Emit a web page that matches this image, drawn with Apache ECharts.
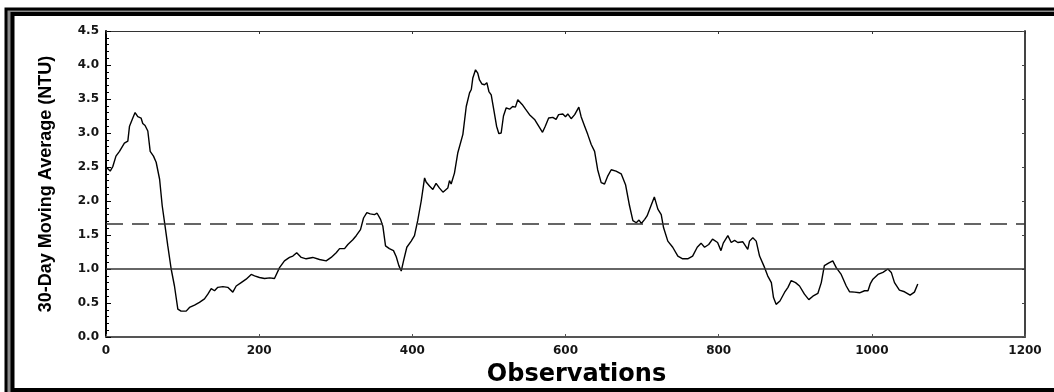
<!DOCTYPE html>
<html>
<head>
<meta charset="utf-8">
<title>30-Day Moving Average (NTU)</title>
<script src="https://cdn.jsdelivr.net/npm/echarts@6/dist/echarts.min.js"></script>
<style>
  html, body { margin: 0; padding: 0; background: #ffffff; }
  #chart { width: 1054px; height: 392px; }
</style>
</head>
<body>
<div id="chart"></div>
<script>
// Observation index of each sample
const obs = [
  0, 5.5, 9, 13, 17.6, 19.8, 24, 28.5, 30.7, 35, 38, 41.5, 45.8, 48, 51, 54.6,
  57.7, 62, 65.5, 70, 73.4, 76.4, 80.7, 85.1, 89.4, 93.8, 98, 104.7, 109, 115.6,
  122, 128.6, 133, 137.4, 141.7, 146, 152.6, 159, 165.6, 170, 176.5, 183, 189.6,
  194, 200.4, 207, 213.7, 220, 226.6, 233, 239.6, 244, 249, 255, 261.4, 270,
  278.8, 287.5, 294, 300.6, 305, 311.5, 315.8, 322.3, 326.7, 332.3, 336.3, 340.6,
  345, 350.6, 354, 358.5, 361.5, 365, 370, 375.4, 379, 382.4, 385.5, 388.5, 392.8,
  398.5, 402.8, 407, 411.6, 416, 418, 422.4, 426.8, 431, 435.5, 440, 446.3, 448.5,
  450.7, 455, 459.4, 461.5, 466, 470.4, 474.7, 477, 479, 482.5, 485.4, 487.7, 491,
  494.3, 497.3, 500, 503, 506.4, 510, 513, 516, 519, 522.6, 527, 531, 534.6, 537.7,
  540, 543.4, 547.8, 553, 559.6, 564, 570, 573.6, 578, 583.4, 587.7, 591, 596.5,
  600, 603, 607.4, 612, 617.4, 620.4, 625, 629, 633.6, 638, 642, 646.6, 651, 655.3,
  659.7, 666, 672.7, 678.4, 683.6, 688, 692.4, 696, 699, 703.4, 706.5, 710.6, 716,
  720.6, 725, 728, 733.6, 740, 746.7, 753, 759.6, 766, 772, 777, 781.6, 787, 792,
  798.6, 803, 806, 812, 816.4, 820.8, 825, 831.6, 838, 840.3, 844.6, 849, 853.4,
  860, 864, 868.8, 871.6, 875, 880, 886, 890.5, 894.7, 900.4, 905.6, 912, 917.7,
  923, 929.5, 934, 938, 944, 949, 953.5, 960, 966.6, 971, 977.5, 984, 990.5, 995,
  997.9, 1001.4, 1008, 1014.5, 1021, 1025.4, 1029.6, 1036, 1042.7, 1050, 1055.6,
  1060
];

// 30-day moving average turbidity, NTU
const ntu = [
  2.50, 2.44, 2.51, 2.66, 2.73, 2.71, 2.85, 2.88, 3.10, 3.22, 3.30, 3.24, 3.22, 3.14, 3.11, 3.03,
  2.73, 2.66, 2.57, 2.32, 1.93, 1.69, 1.34, 1.00, 0.75, 0.41, 0.38, 0.38, 0.435, 0.47,
  0.51, 0.56, 0.63, 0.71, 0.68, 0.73, 0.74, 0.73, 0.66, 0.75, 0.80, 0.85, 0.92,
  0.90, 0.875, 0.86, 0.87, 0.86, 1.02, 1.12, 1.17, 1.19, 1.24, 1.17, 1.15, 1.17,
  1.14, 1.12, 1.17, 1.24, 1.30, 1.30, 1.36, 1.43, 1.49, 1.58, 1.75, 1.83,
  1.81, 1.80, 1.82, 1.73, 1.63, 1.34, 1.30, 1.27, 1.18, 1.05, 0.97, 1.12, 1.32,
  1.41, 1.49, 1.71, 2.00, 2.34, 2.28, 2.22, 2.17, 2.26, 2.19, 2.13, 2.19, 2.30,
  2.25, 2.41, 2.71, 2.73, 2.98, 3.39, 3.59, 3.64, 3.81, 3.93, 3.88, 3.78, 3.72,
  3.71, 3.74, 3.61, 3.56, 3.34, 3.10, 2.99, 3.00, 3.25, 3.37, 3.35, 3.39, 3.38, 3.49,
  3.50, 3.42, 3.35, 3.27, 3.20, 3.12, 3.01, 3.10, 3.22, 3.23, 3.20, 3.27, 3.28,
  3.24, 3.28, 3.21, 3.27, 3.38, 3.24, 3.10, 2.98, 2.83, 2.73, 2.46, 2.27, 2.25, 2.37,
  2.46, 2.44, 2.40, 2.24, 1.93, 1.71, 1.68, 1.72, 1.67, 1.73, 1.78, 1.90, 2.06,
  1.88, 1.80, 1.61, 1.41, 1.32, 1.19, 1.15, 1.15, 1.19, 1.32, 1.38, 1.32, 1.36, 1.44,
  1.39, 1.27, 1.38, 1.49, 1.39, 1.42, 1.39, 1.40, 1.29, 1.41, 1.46, 1.41, 1.19,
  1.02, 0.90, 0.80, 0.58, 0.48, 0.53, 0.655, 0.73, 0.83, 0.80, 0.75, 0.63, 0.55,
  0.60, 0.64, 0.80, 1.05, 1.09, 1.12, 1.02, 0.92, 0.75, 0.665, 0.66, 0.65, 0.68, 0.68,
  0.78, 0.85, 0.92, 0.95, 1.00, 0.95, 0.80, 0.69, 0.665, 0.615, 0.66,
  0.78
];

// Horizontal reference levels, NTU
const solidLevel = 1.0;
const dashedLevel = 1.67;

// Axis ranges and tick steps
const xTicks = { min: 0, max: 1200, step: 200 };
const yTicks = { min: 0, max: 4.5, step: 0.5 };

const points = obs.map((x, i) => [x, ntu[i]]);

const tickFont = {
  fontFamily: 'DejaVu Sans',
  fontWeight: 'bold',
  fontSize: 12,
  color: '#151515'
};

const chart = echarts.init(document.getElementById('chart'), null, { renderer: 'canvas' });

chart.setOption({
  animation: false,
  backgroundColor: '#ffffff',
  graphic: [
    {
      type: 'rect',
      z: -20,
      silent: true,
      shape: { x: 6, y: 9, width: 1200, height: 500 },
      style: { fill: '#8a8a8a', stroke: '#000000', lineWidth: 3 }
    },
    {
      type: 'rect',
      z: -19,
      silent: true,
      shape: { x: 12.5, y: 14, width: 1200, height: 376 },
      style: { fill: '#ffffff', stroke: '#000000', lineWidth: 4 }
    }
  ],
  grid: { left: 106, right: 29, top: 31, bottom: 54, containLabel: false },
  xAxis: [
    {
      type: 'value',
      position: 'bottom',
      min: xTicks.min,
      max: xTicks.max,
      interval: xTicks.step,
      name: 'Observations',
      nameLocation: 'middle',
      nameGap: 26,
      nameTextStyle: {
        fontFamily: 'DejaVu Sans',
        fontWeight: 'bold',
        fontSize: 24,
        color: '#000000',
        padding: [0, 0, 0, 22]
      },
      axisLine: { show: true, onZero: false, lineStyle: { color: '#555555', width: 2 } },
      axisTick: { show: true, inside: true, length: 3, lineStyle: { color: '#555555', width: 1 } },
      axisLabel: Object.assign({ margin: 8, formatter: v => String(v) }, tickFont),
      splitLine: { show: false }
    },
    {
      type: 'value',
      position: 'top',
      min: xTicks.min,
      max: xTicks.max,
      interval: xTicks.step,
      axisLine: { show: true, onZero: false, lineStyle: { color: '#333333', width: 1 } },
      axisTick: { show: true, inside: true, length: 3, lineStyle: { color: '#333333', width: 1 } },
      axisLabel: { show: false },
      splitLine: { show: false }
    }
  ],
  yAxis: [
    {
      type: 'value',
      position: 'left',
      min: yTicks.min,
      max: yTicks.max,
      interval: yTicks.step,
      name: '30-Day Moving Average (NTU)',
      nameLocation: 'middle',
      nameGap: 51,
      nameTextStyle: {
        fontFamily: 'Liberation Sans',
        fontWeight: 'bold',
        fontSize: 18,
        color: '#000000'
      },
      axisLine: { show: true, onZero: false, lineStyle: { color: '#000000', width: 2 } },
      axisTick: { show: true, inside: true, length: 5, lineStyle: { color: '#000000', width: 1 } },
      minorTick: { show: true, splitNumber: 5, length: 3, lineStyle: { color: '#000000', width: 1 } },
      axisLabel: Object.assign({
        margin: 7,
        formatter: v => v.toFixed(1)
      }, tickFont),
      splitLine: { show: false },
      minorSplitLine: { show: false }
    },
    {
      type: 'value',
      position: 'right',
      min: yTicks.min,
      max: yTicks.max,
      interval: yTicks.step,
      axisLine: { show: true, onZero: false, lineStyle: { color: '#444444', width: 2 } },
      axisTick: { show: true, inside: true, length: 3, lineStyle: { color: '#444444', width: 1 } },
      axisLabel: { show: false },
      splitLine: { show: false }
    }
  ],
  series: [
    {
      type: 'line',
      xAxisIndex: 0,
      yAxisIndex: 0,
      data: points,
      showSymbol: false,
      symbol: 'none',
      smooth: false,
      lineStyle: { color: '#000000', width: 1.4 },
      markLine: {
        silent: true,
        symbol: 'none',
        label: { show: false },
        data: [
          { yAxis: solidLevel, lineStyle: { type: 'solid', color: '#333333', width: 1.5 } },
          { yAxis: dashedLevel, lineStyle: { type: [17, 9], color: '#333333', width: 1.5 } }
        ]
      }
    }
  ]
});
</script>
</body>
</html>
